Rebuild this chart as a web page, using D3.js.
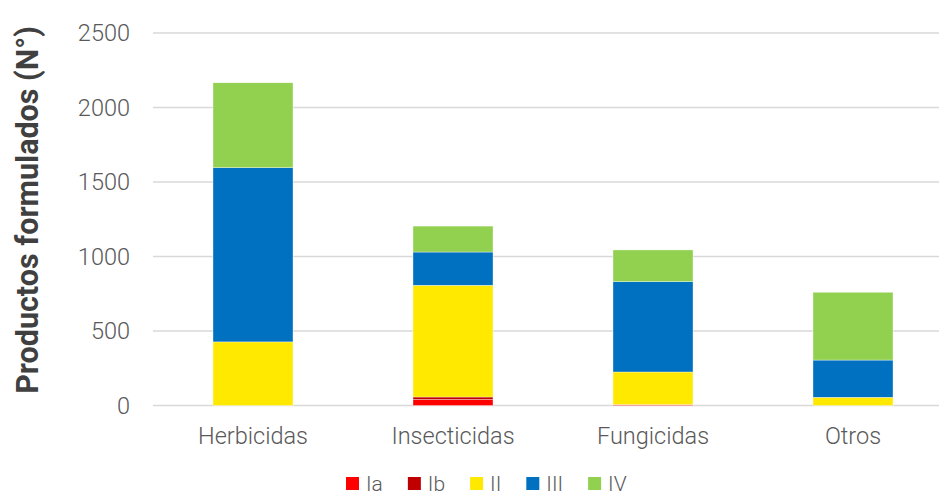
<!DOCTYPE html>
<html>
<head>
<meta charset="utf-8">
<script src="https://cdn.jsdelivr.net/npm/d3@7/dist/d3.min.js"></script>
<style>
  html, body { margin: 0; padding: 0; background: #fff; }
  svg { display: block; }
</style>
</head>
<body>
<svg id="chart" width="939" height="497"></svg>
<script>
const categories = ["Herbicidas", "Insecticidas", "Fungicidas", "Otros"];
const seriesNames = ["Ia", "Ib", "II", "III", "IV"];
const seriesColors = ["#FF0000", "#C00000", "#FFE900", "#0070C0", "#92D050"];
const valuesIa  = [0, 40, 6, 0];
const valuesIb  = [0, 17, 0, 0];
const valuesII  = [427, 750, 219, 55];
const valuesIII = [1169, 223, 606, 250];
const valuesIV  = [570, 174, 213, 455];
const yTicks = [0, 500, 1000, 1500, 2000, 2500];
const yTitle = "Productos formulados (N°)";

const seriesValues = [valuesIa, valuesIb, valuesII, valuesIII, valuesIV];
const rows = categories.map((c, i) => {
  const r = { cat: c };
  seriesNames.forEach((s, j) => r[s] = seriesValues[j][i]);
  return r;
});

const svg = d3.select("#chart");
const x = d3.scaleBand().domain(categories).range([153, 953]).paddingInner(0.6).paddingOuter(0.3);
const y = d3.scaleLinear().domain([0, 2500]).range([405.5, 33]);

// gridlines
svg.append("g").selectAll("line").data(yTicks).join("line")
  .attr("x1", 153).attr("x2", 953)
  .attr("y1", d => y(d)).attr("y2", d => y(d))
  .attr("stroke", "#D9D9D9").attr("stroke-width", 1.5);

// y tick labels
svg.append("g").selectAll("text").data(yTicks).join("text")
  .attr("x", 130).attr("y", d => y(d)).attr("dy", "0.36em")
  .attr("text-anchor", "end")
  .attr("font-family", "Roboto").attr("font-weight", 300).attr("font-size", 23.5)
  .attr("fill", "#595959").text(d => d);

// bars
const stack = d3.stack().keys(seriesNames)(rows);
svg.append("g").selectAll("g").data(stack).join("g")
  .attr("fill", (d, i) => seriesColors[i])
  .selectAll("rect").data(d => d).join("rect")
  .attr("x", d => x(d.data.cat))
  .attr("width", x.bandwidth())
  .attr("y", d => y(d[1]))
  .attr("height", d => y(d[0]) - y(d[1]))
  .attr("stroke", "#ffffff").attr("stroke-width", 0.6).attr("stroke-opacity", 0.6);

// category labels
svg.append("g").selectAll("text").data(categories).join("text")
  .attr("x", d => x(d) + x.bandwidth() / 2).attr("y", 443.5)
  .attr("text-anchor", "middle")
  .attr("font-family", "Roboto").attr("font-weight", 300).attr("font-size", 23.5)
  .attr("fill", "#595959").text(d => d);

// y title
svg.append("text")
  .attr("transform", "translate(38,210) rotate(-90)")
  .attr("text-anchor", "middle")
  .attr("font-family", "Roboto").attr("font-weight", 700).attr("font-size", 30.5)
  .attr("fill", "#404040").text(yTitle);

// legend
const leg = svg.append("g");
let lx = 346;
seriesNames.forEach((s, i) => {
  leg.append("rect").attr("x", lx).attr("y", 477).attr("width", 13).attr("height", 13)
    .attr("fill", seriesColors[i]);
  const t = leg.append("text").attr("x", lx + 20).attr("y", 490.5)
    .attr("font-family", "Roboto").attr("font-weight", 300).attr("font-size", 21)
    .attr("fill", "#595959").text(s);
  lx += 20 + t.node().getComputedTextLength() + 25;
});
</script>
</body>
</html>
